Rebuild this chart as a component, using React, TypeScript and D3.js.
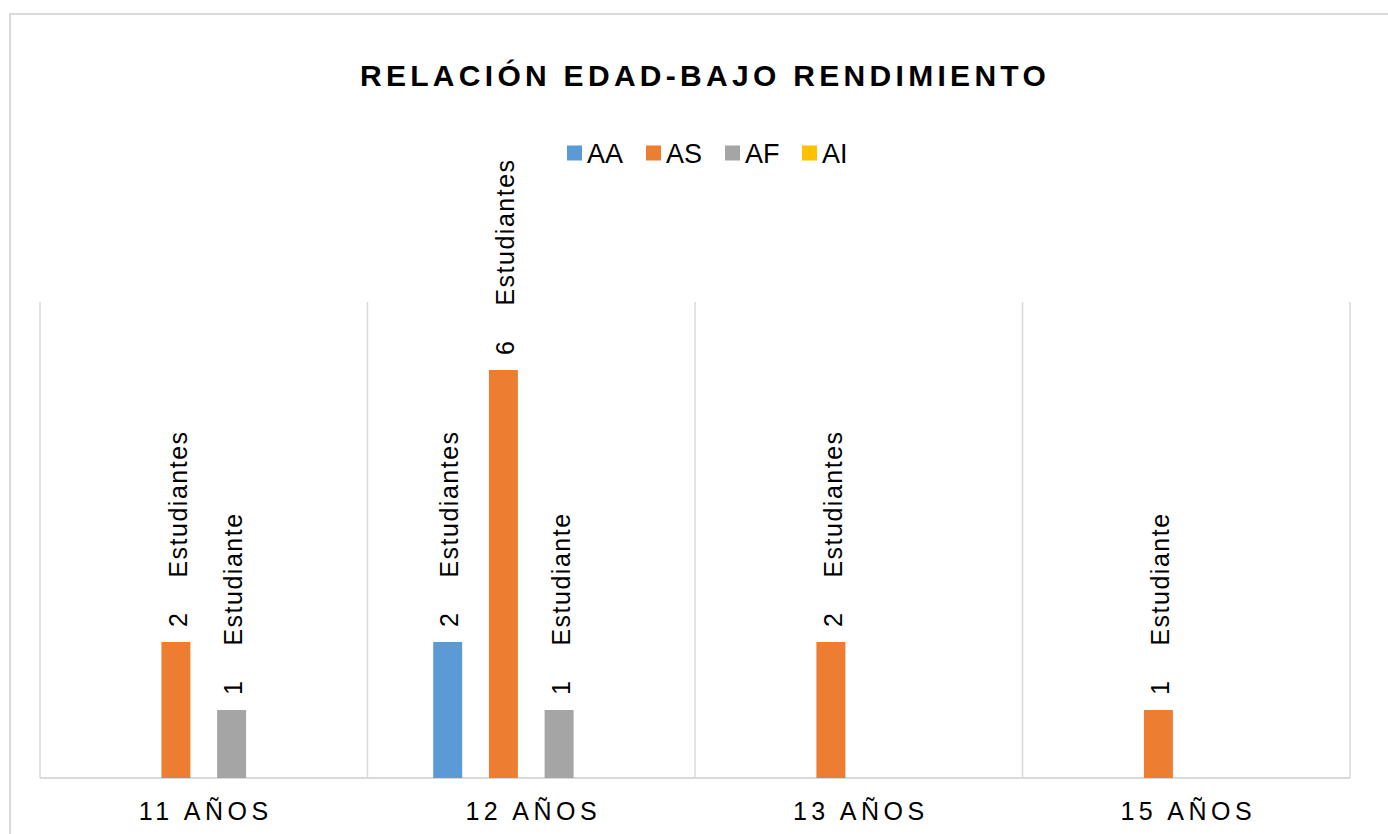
import React, { useEffect, useRef } from 'react';
import * as d3 from 'd3';

const categories = ['11 AÑOS', '12 AÑOS', '13 AÑOS', '15 AÑOS'];
const seriesNames = ['AA', 'AS', 'AF', 'AI'];
const seriesColors = ['#5B9BD5', '#ED7D31', '#A5A5A5', '#FFC000'];
const valuesAA = [0, 2, 0, 0];
const valuesAS = [2, 6, 2, 1];
const valuesAF = [1, 1, 0, 0];
const valuesAI = [0, 0, 0, 0];
const title = 'RELACIÓN EDAD-BAJO RENDIMIENTO';

const W = 1388, H = 834;
const FONT = "'Liberation Sans', Arial, sans-serif";

export default function App() {
  const ref = useRef<SVGSVGElement>(null);

  useEffect(() => {
    const svg = d3.select(ref.current);
    svg.selectAll('*').remove();

    const series = [valuesAA, valuesAS, valuesAF, valuesAI];
    const rows = categories.flatMap((c, i) =>
      seriesNames.map((s, j) => ({ cat: c, name: s, value: series[j][i], color: seriesColors[j] }))
    );

    const margin = { left: 40, right: 38, top: 302, bottom: 56 };
    const x = d3.scaleBand().domain(categories).range([margin.left, W - margin.right]);
    const xInner = d3.scaleBand().domain(seriesNames).range([0, x.bandwidth()])
      .paddingInner(0.48).paddingOuter(1.18);
    const y = d3.scaleLinear().domain([0, 7]).range([H - margin.bottom, margin.top]);

    // chart border
    svg.append('rect')
      .attr('x', 10).attr('y', 14).attr('width', W).attr('height', H)
      .attr('fill', 'white').attr('stroke', '#D9D9D9').attr('stroke-width', 2);

    // title
    svg.append('text')
      .attr('x', 705).attr('y', 86)
      .attr('text-anchor', 'middle')
      .attr('font-family', FONT).attr('font-weight', 'bold')
      .attr('font-size', 30).attr('letter-spacing', 4.3)
      .attr('fill', '#000')
      .text(title);

    // legend
    const legend = svg.append('g').attr('font-family', FONT).attr('font-size', 27);
    const legendX = [567, 646, 725, 802];
    seriesNames.forEach((s, j) => {
      const g = legend.append('g').attr('transform', `translate(${legendX[j]},153)`);
      g.append('rect').attr('x', 0).attr('y', -7.5).attr('width', 15).attr('height', 15).attr('fill', seriesColors[j]);
      g.append('text').attr('x', 20).attr('y', 0).attr('dy', '0.36em').attr('fill', '#000').text(s);
    });

    // vertical gridlines at category boundaries
    const bounds = categories.map(c => x(c)!).concat([x.range()[1]]);
    svg.append('g')
      .selectAll('line')
      .data(bounds)
      .join('line')
      .attr('x1', d => d).attr('x2', d => d)
      .attr('y1', y(7)).attr('y2', y(0))
      .attr('stroke', '#D9D9D9').attr('stroke-width', 1.5);

    svg.append('line')
      .attr('x1', x.range()[0]).attr('x2', x.range()[1])
      .attr('y1', y(0)).attr('y2', y(0))
      .attr('stroke', '#D9D9D9').attr('stroke-width', 2);

    // bars
    const nonZero = rows.filter(d => d.value > 0);
    svg.append('g')
      .selectAll('rect')
      .data(nonZero)
      .join('rect')
      .attr('x', d => x(d.cat)! + xInner(d.name)!)
      .attr('width', xInner.bandwidth())
      .attr('y', d => y(d.value))
      .attr('height', d => y(0) - y(d.value))
      .attr('fill', d => d.color);

    // data labels (rotated)
    svg.append('g')
      .attr('font-family', FONT).attr('font-size', 25).attr('fill', '#000')
      .selectAll('text')
      .data(nonZero)
      .join('text')
      .attr('transform', d => `translate(${x(d.cat)! + xInner(d.name)! + xInner.bandwidth() / 2 + 2},${y(d.value) - 15}) rotate(-90)`)
      .attr('dy', '0.35em')
      .attr('letter-spacing', 1.5)
      .call(t => t.append('tspan').text(d => String(d.value)))
      .call(t => t.append('tspan').attr('dx', 34).text(d => d.value === 1 ? 'Estudiante' : 'Estudiantes'));

    // category labels
    svg.append('g')
      .attr('font-family', FONT).attr('font-size', 25).attr('fill', '#000')
      .attr('letter-spacing', 4.5)
      .selectAll('text')
      .data(categories)
      .join('text')
      .attr('x', d => x(d)! + x.bandwidth() / 2 + 2)
      .attr('y', 820)
      .attr('text-anchor', 'middle')
      .text(d => d);
  }, []);

  return (
    <div style={{ position: 'absolute', left: 0, top: 0 }}>
      <svg ref={ref} width={W} height={H} style={{ display: 'block' }} />
    </div>
  );
}
